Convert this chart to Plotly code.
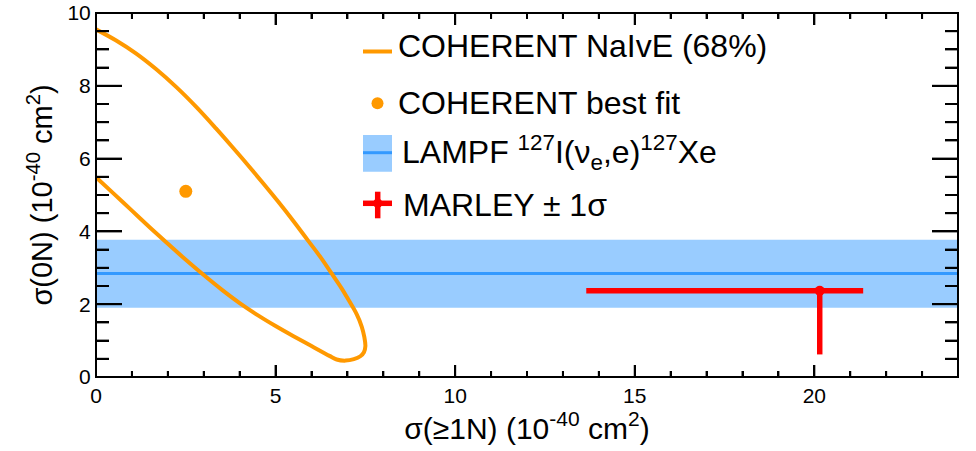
import plotly.graph_objects as go

# ---------------- data ----------------
# COHERENT NaIvE 68% contour (clipped at x=0)
coh_x = [0.0, 0.55, 1.11, 1.67, 2.23, 2.79, 3.34, 3.76, 4.18, 4.63, 5.07, 5.50, 5.91,
         6.26, 6.57, 6.83, 7.03, 7.26, 7.40, 7.47, 7.50, 7.46, 7.36, 7.18, 6.95,
         6.70, 6.50, 6.00, 5.50, 5.00, 4.50, 4.00, 3.50, 3.00, 2.50, 2.00, 1.50,
         1.00, 0.50, 0.0]
coh_y = [9.55, 9.25, 8.89, 8.46, 7.97, 7.42, 6.83, 6.36, 5.88, 5.35, 4.82, 4.28, 3.74,
         3.28, 2.83, 2.45, 2.12, 1.72, 1.38, 1.10, 0.85, 0.68, 0.57, 0.49, 0.45,
         0.48, 0.58, 0.85, 1.12, 1.40, 1.70, 2.03, 2.40, 2.80, 3.22, 3.66, 4.11,
         4.57, 5.03, 5.49]

best_fit_x = [2.5]
best_fit_y = [5.1]

lampf_x = [0, 24]
lampf_center = 2.84
lampf_lo = 1.90
lampf_hi = 3.77

marley_x = [20.15]
marley_y = [2.37]
marley_ex_plus = [1.21]
marley_ex_minus = [6.50]
marley_ey_plus = [0.0]
marley_ey_minus = [1.75]

x_major = [0, 5, 10, 15, 20]
x_minor = [v for v in range(0, 25) if v % 5 != 0]
y_major = [0, 2, 4, 6, 8, 10]
y_minor = [v / 2 for v in range(0, 21) if v % 4 != 0]

ORANGE = "#FF9900"
LIGHTBLUE = "#99CCFF"
BLUE = "#3399FF"
RED = "#FF0000"
TICK = "#000000"
FONT = "Liberation Sans, Arial, Helvetica, sans-serif"

fig = go.Figure()

# LAMPF band
fig.add_trace(go.Scatter(x=lampf_x, y=[lampf_lo] * 2, mode="lines",
                         line=dict(width=0, color=LIGHTBLUE), showlegend=False))
fig.add_trace(go.Scatter(x=lampf_x, y=[lampf_hi] * 2, mode="lines", fill="tonexty",
                         fillcolor=LIGHTBLUE, line=dict(width=0, color=LIGHTBLUE),
                         showlegend=False))
fig.add_trace(go.Scatter(x=lampf_x, y=[lampf_center] * 2, mode="lines",
                         line=dict(width=3, color=BLUE), showlegend=False,
                         name="LAMPF"))

# COHERENT contour
fig.add_trace(go.Scatter(x=coh_x, y=coh_y, mode="lines",
                         line=dict(color=ORANGE, width=4, shape="spline", smoothing=1.0),
                         showlegend=False, name="COHERENT NaIvE (68%)"))
# best fit
fig.add_trace(go.Scatter(x=best_fit_x, y=best_fit_y, mode="markers",
                         marker=dict(color=ORANGE, size=13), showlegend=False,
                         name="COHERENT best fit"))
# MARLEY
fig.add_trace(go.Scatter(
    x=marley_x, y=marley_y, mode="markers",
    marker=dict(color=RED, size=10, symbol="circle"),
    error_x=dict(type="data", symmetric=False, array=marley_ex_plus,
                 arrayminus=marley_ex_minus, color=RED, thickness=5.5, width=0),
    error_y=dict(type="data", symmetric=False, array=marley_ey_plus,
                 arrayminus=marley_ey_minus, color=RED, thickness=5.5, width=0),
    showlegend=False, name="MARLEY"))

# ---------------- ticks, frame, manual legend ----------------
W, H = 862.0, 364.0
def px(xp):
    return (xp - 96) / W
def py(yp):
    return (377 - yp) / H

shapes = []
annotations = []

def xtick(v, length):
    l = length / H
    tl = dict(color=TICK, width=2)
    shapes.append(dict(type="line", xref="x", yref="paper", x0=v, x1=v, y0=0, y1=l,
                       line=tl, layer="above"))
    shapes.append(dict(type="line", xref="x", yref="paper", x0=v, x1=v, y0=1 - l, y1=1,
                       line=tl, layer="above"))

def ytick(v, length):
    l = length / W
    tl = dict(color=TICK, width=2)
    shapes.append(dict(type="line", xref="paper", yref="y", x0=0, x1=l, y0=v, y1=v,
                       line=tl, layer="above"))
    shapes.append(dict(type="line", xref="paper", yref="y", x0=1 - l, x1=1, y0=v, y1=v,
                       line=tl, layer="above"))

for v in x_major:
    xtick(v, 12)
for v in x_minor:
    xtick(v, 6)
for v in y_major:
    ytick(v, 26)
for v in y_minor:
    ytick(v, 13)

# plot frame (2 px)
shapes.append(dict(type="rect", xref="paper", yref="paper", x0=0, x1=1, y0=0, y1=1,
                   line=dict(color="black", width=2), fillcolor="rgba(0,0,0,0)"))
# legend symbols
shapes.append(dict(type="line", xref="paper", yref="paper", x0=px(363), x1=px(392),
                   y0=py(51.5), y1=py(51.5), line=dict(color=ORANGE, width=4)))
shapes.append(dict(type="circle", xref="paper", yref="paper", x0=px(371.5), x1=px(383.5),
                   y0=py(109.3), y1=py(97.3), fillcolor=ORANGE, line=dict(width=0)))
shapes.append(dict(type="rect", xref="paper", yref="paper", x0=px(363), x1=px(392),
                   y0=py(171.7), y1=py(135), fillcolor=LIGHTBLUE, line=dict(width=0)))
shapes.append(dict(type="line", xref="paper", yref="paper", x0=px(363), x1=px(392),
                   y0=py(152.7), y1=py(152.7), line=dict(color=BLUE, width=3)))
shapes.append(dict(type="line", xref="paper", yref="paper", x0=px(363), x1=px(392),
                   y0=py(203.3), y1=py(203.3), line=dict(color=RED, width=5.5)))
shapes.append(dict(type="line", xref="paper", yref="paper", x0=px(377.7), x1=px(377.7),
                   y0=py(218.3), y1=py(191.7), line=dict(color=RED, width=5.5)))
shapes.append(dict(type="circle", xref="paper", yref="paper", x0=px(373), x1=px(382.5),
                   y0=py(208), y1=py(198.5), fillcolor=RED, line=dict(width=0)))

legend_texts = [
    ("COHERENT NaIvE (68%)", 396, 46),
    ("COHERENT best fit", 396, 102.5),
    ("LAMPF <sup>127</sup>I(ν<sub>e</sub>,e)<sup>127</sup>Xe", 399.5, 152.5),
    ("MARLEY ± 1σ", 401, 205),
]
for txt, xp, yp in legend_texts:
    annotations.append(dict(text=txt, xref="paper", yref="paper", x=px(xp), y=py(yp),
                            xanchor="left", yanchor="middle", showarrow=False,
                            font=dict(size=32, color="black", family=FONT)))

fig.update_layout(
    template="none",
    width=976, height=451,
    margin=dict(l=96, r=18, t=13, b=74, autoexpand=False),
    font=dict(family=FONT, color="black"),
    shapes=shapes, annotations=annotations,
    showlegend=False,
)

fig.update_xaxes(
    range=[0, 24], dtick=5,
    ticks="inside", ticklen=12, tickwidth=2, tickcolor=TICK,
    minor=dict(ticks="inside", ticklen=6, dtick=1, tickcolor=TICK, tickwidth=2),
    showline=True, linecolor="black", mirror="ticks",
    gridcolor="rgba(0,0,0,0)", zerolinecolor="rgba(0,0,0,0)",
    tickfont=dict(size=21, family=FONT, color="black"),
    title=dict(text="σ(≥1N) (10<sup>-40</sup> cm<sup>2</sup>)",
               font=dict(size=30, family=FONT, color="black"), standoff=10),
)
fig.update_yaxes(
    range=[0, 10], dtick=2,
    ticks="inside", ticklen=26, tickwidth=2, tickcolor=TICK,
    minor=dict(ticks="inside", ticklen=13, dtick=0.5, tickcolor=TICK, tickwidth=2),
    showline=True, linecolor="black", mirror="ticks",
    gridcolor="rgba(0,0,0,0)", zerolinecolor="rgba(0,0,0,0)",
    tickfont=dict(size=21, family=FONT, color="black"),
    title=dict(text="σ(0N) (10<sup>-40</sup> cm<sup>2</sup>)",
               font=dict(size=29, family=FONT, color="black"), standoff=6),
)

fig.write_html("out.html")
